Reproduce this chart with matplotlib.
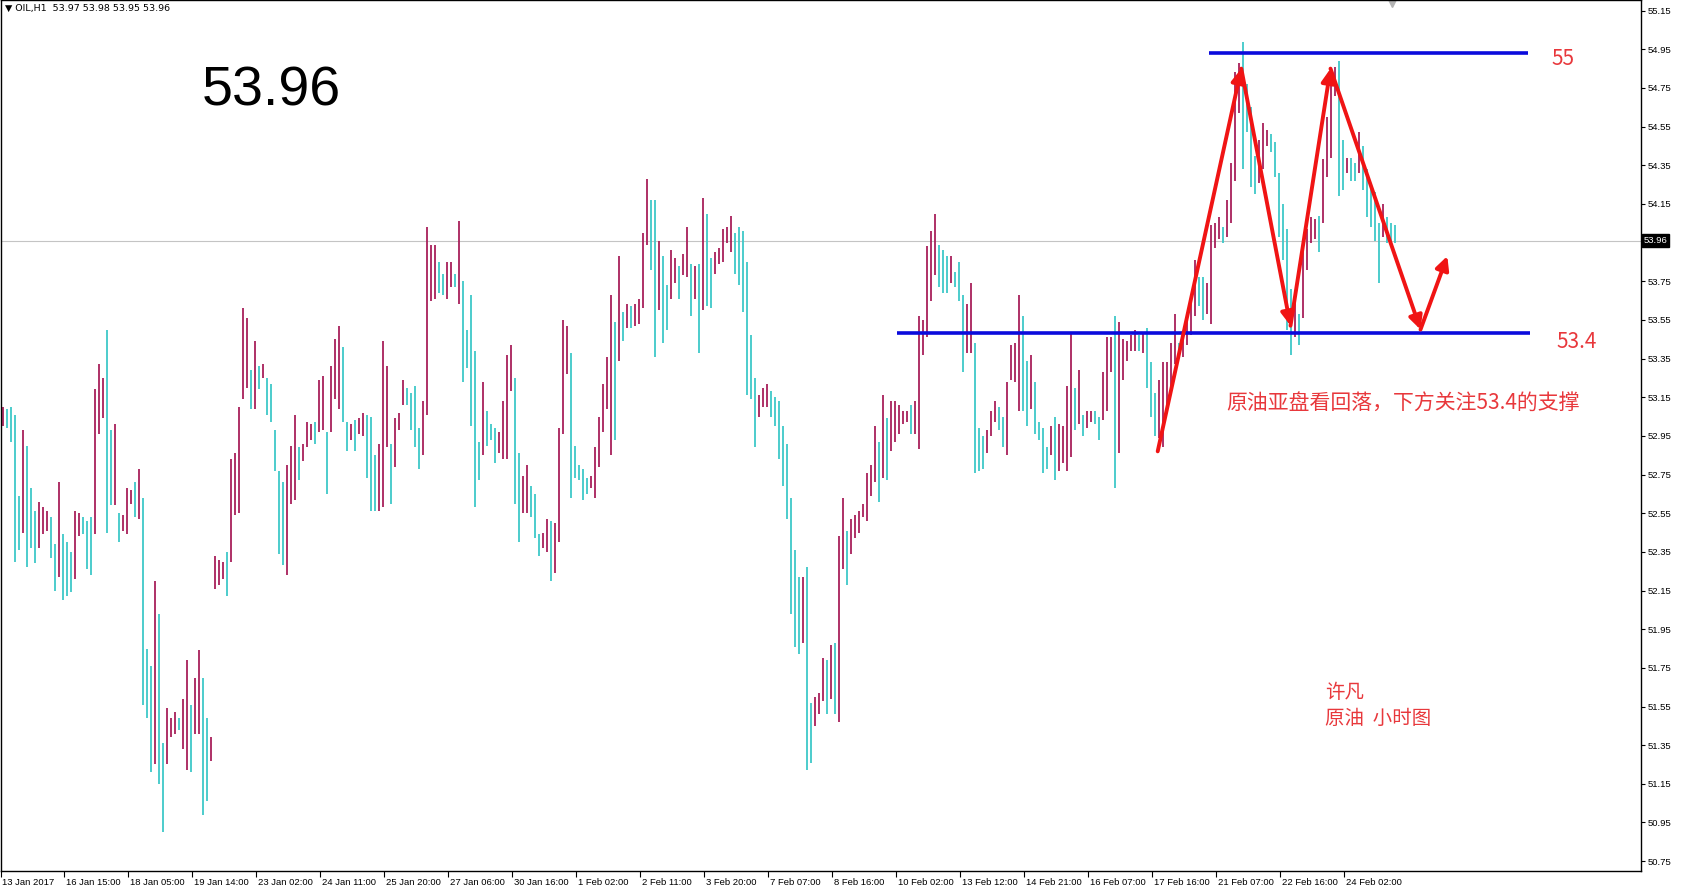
# import libraries
import numpy as np
import matplotlib
matplotlib.use("Agg")
import matplotlib.pyplot as plt
from matplotlib import transforms

# default font for the terminal texts
plt.rcParams['font.family'] = ['Liberation Sans', 'DejaVu Sans']

# highs and lows of the OIL H1 bars (each bar here = 2 hourly bars)
highs = [
    53.10, 53.09, 53.10, 53.06, 52.64, 52.98, 52.90, 52.68, 52.56, 52.61,
    52.58, 52.56, 52.53, 52.39, 52.71, 52.44, 52.40, 52.35, 52.56, 52.55,
    52.53, 52.51, 52.53, 53.19, 53.32, 53.25, 53.50, 52.98, 53.01, 52.55,
    52.54, 52.68, 52.67, 52.71, 52.78, 52.63, 51.85, 51.76, 52.20, 52.03,
    51.36, 51.54, 51.49, 51.52, 51.49, 51.59, 51.79, 51.56, 51.70, 51.84,
    51.70, 51.49, 51.39, 52.33, 52.31, 52.30, 52.35, 52.83, 52.86, 53.10,
    53.61, 53.56, 53.29, 53.44, 53.31, 53.32, 53.25, 53.22, 52.98, 52.77,
    52.71, 52.80, 52.90, 53.06, 52.89, 52.91, 53.02, 53.01, 53.02, 53.24,
    53.26, 52.97, 53.31, 53.45, 53.52, 53.41, 53.02, 53.01,
    53.03, 53.04, 53.07, 53.06, 53.05, 52.85, 52.91, 53.44, 53.31, 52.91,
    53.04, 53.07, 53.24, 53.20, 53.17, 53.21, 52.99, 53.13, 54.03, 53.94,
    53.94, 53.85, 53.79, 53.85, 53.85, 53.79, 54.06, 53.75, 53.50, 53.68,
    53.39, 52.92, 53.23, 53.08, 53.01, 52.99, 52.97, 53.13, 53.37, 53.42,
    53.25, 52.86, 52.74, 52.80, 52.69, 52.65, 52.44, 52.45, 52.52, 52.51,
    52.50, 52.99, 53.55, 53.52, 53.38, 52.90, 52.80, 52.78, 52.73, 52.74,
    52.89, 53.05, 53.22, 53.36, 53.68, 53.54, 53.88, 53.59, 53.63, 53.62,
    53.63, 53.66, 54.00, 54.28, 54.17, 54.17, 53.96, 53.88, 53.73, 53.91,
    53.87, 53.83, 53.89, 54.03, 53.84, 53.83, 53.84, 54.18,
    54.10, 53.87, 53.90, 53.92, 54.02, 54.03, 54.09, 54.00, 54.03, 54.01,
    53.85, 53.47, 53.25, 53.16, 53.20, 53.22, 53.18, 53.15, 53.13, 53.00,
    52.91, 52.63, 52.36, 52.22, 52.22, 52.27, 51.57, 51.60, 51.62, 51.80,
    51.79, 51.87, 51.88, 52.43, 52.63, 52.46, 52.52, 52.54, 52.56, 52.60,
    52.76, 52.80, 53.00, 52.92, 53.16, 53.04, 53.13, 53.13, 53.11, 53.08,
    53.08, 53.11, 53.13, 53.57, 53.55, 53.93, 54.01, 54.10, 53.94, 53.91,
    53.88, 53.88, 53.80, 53.85, 53.68, 53.63, 53.74, 53.43, 52.99, 52.95,
    52.98, 53.08, 53.13, 53.10, 53.05, 53.23, 53.42, 53.43, 53.68, 53.57,
    53.34, 53.37, 53.23, 53.02, 52.99, 52.89, 53.00, 53.05,
    53.01, 53.00, 53.21, 53.48, 53.20, 53.29, 53.06, 53.08, 53.08, 53.08,
    53.05, 53.28, 53.46, 53.46, 53.57, 53.54, 53.45, 53.44, 53.47, 53.50,
    53.47, 53.49, 53.51, 53.33, 53.17, 53.24, 53.33, 53.33, 53.43, 53.58,
    53.43, 53.46, 53.57, 53.67, 53.86, 53.77, 53.77, 53.74, 54.04, 54.05,
    54.08, 54.03, 54.17, 54.36, 54.83, 54.88, 54.99, 54.77, 54.65, 54.40,
    54.48, 54.57, 54.53, 54.51, 54.47, 54.31, 54.15, 54.02, 53.71, 53.64,
    53.58, 53.96, 54.02, 54.08, 54.07, 54.09, 54.38, 54.60, 54.77, 54.86,
    54.89, 54.48, 54.39, 54.39, 54.36, 54.52, 54.45, 54.33, 54.24, 54.21,
    54.05, 54.15, 54.08, 54.05, 54.04,
]
lows = [
    53.00, 52.99, 52.92, 52.30, 52.36, 52.45, 52.27, 52.37, 52.29, 52.37,
    52.44, 52.46, 52.32, 52.15, 52.22, 52.10, 52.12, 52.14, 52.21, 52.43,
    52.44, 52.26, 52.23, 52.44, 52.96, 53.04, 52.45, 52.59, 52.59, 52.40,
    52.46, 52.44, 52.60, 52.53, 52.52, 51.56, 51.49, 51.21, 51.25, 51.15,
    50.90, 51.25, 51.39, 51.41, 51.43, 51.33, 51.22, 51.21, 51.41, 51.41,
    50.99, 51.06, 51.27, 52.16, 52.18, 52.21, 52.12, 52.30, 52.54, 52.55,
    53.14, 53.20, 53.09, 53.09, 53.19, 53.25, 53.06, 53.02, 52.77, 52.34,
    52.28, 52.23, 52.60, 52.62, 52.72, 52.82, 52.89, 52.93, 52.91, 52.97,
    52.98, 52.65, 52.97, 53.14, 53.09, 53.02, 52.87, 52.93,
    52.87, 52.96, 52.95, 52.73, 52.56, 52.56, 52.56, 52.58, 52.89, 52.60,
    52.79, 52.98, 53.11, 53.11, 52.98, 52.89, 52.78, 52.85, 53.06, 53.65,
    53.66, 53.69, 53.68, 53.66, 53.72, 53.72, 53.63, 53.23, 53.30, 53.00,
    52.58, 52.72, 52.85, 52.90, 52.93, 52.81, 52.86, 52.83, 52.83, 53.18,
    52.60, 52.40, 52.55, 52.55, 52.53, 52.42, 52.33, 52.37, 52.35, 52.20,
    52.24, 52.40, 52.96, 53.27, 52.63, 52.73, 52.72, 52.62, 52.65, 52.68,
    52.63, 52.79, 52.97, 53.09, 52.85, 52.93, 53.34, 53.44, 53.51, 53.51,
    53.52, 53.53, 53.61, 53.94, 53.81, 53.36, 53.60, 53.43, 53.50, 53.66,
    53.74, 53.66, 53.78, 53.77, 53.57, 53.66, 53.38, 53.60,
    53.62, 53.61, 53.79, 53.84, 53.85, 53.95, 53.90, 53.79, 53.73, 53.59,
    53.16, 53.14, 52.89, 53.05, 53.10, 53.10, 53.05, 53.00, 52.83, 52.69,
    52.52, 52.03, 51.86, 51.82, 51.88, 51.22, 51.26, 51.45, 51.51, 51.58,
    51.51, 51.59, 51.51, 51.47, 52.26, 52.18, 52.34, 52.42, 52.45, 52.53,
    52.51, 52.64, 52.71, 52.61, 52.73, 52.72, 52.87, 52.92, 52.96, 53.01,
    53.02, 52.96, 52.96, 52.88, 53.37, 53.46, 53.65, 53.78, 53.72, 53.69,
    53.69, 53.74, 53.72, 53.65, 53.28, 53.38, 53.38, 52.76, 52.77, 52.78,
    52.86, 52.95, 53.02, 52.98, 52.89, 52.85, 53.24, 53.23, 53.08, 53.08,
    53.00, 53.09, 52.96, 52.93, 52.76, 52.78, 52.85, 52.72,
    52.77, 52.81, 52.77, 52.84, 52.98, 53.01, 52.95, 52.99, 53.02, 53.01,
    52.93, 53.03, 53.08, 53.28, 52.68, 52.86, 53.24, 53.34, 53.39, 53.39,
    53.39, 53.38, 53.20, 53.05, 52.95, 52.94, 52.89, 53.08, 53.21, 53.32,
    53.37, 53.36, 53.42, 53.47, 53.57, 53.62, 53.55, 53.58, 53.53, 53.92,
    53.97, 53.95, 53.98, 54.05, 54.27, 54.62, 54.33, 54.52, 54.24, 54.20,
    54.26, 54.33, 54.45, 54.42, 54.29, 53.98, 53.86, 53.50, 53.37, 53.46,
    53.42, 53.56, 53.81, 53.95, 53.97, 53.90, 54.05, 54.29, 54.39, 54.71,
    54.19, 54.22, 54.31, 54.27, 54.27, 54.31, 54.22, 54.08, 54.03, 53.96,
    53.74, 53.98, 53.95, 53.95, 53.95,
]

# bottom axis date labels (one every 16 bars) and right axis price ticks
date_labels = ["13 Jan 2017", "16 Jan 15:00", "18 Jan 05:00", "19 Jan 14:00", "23 Jan 02:00",
               "24 Jan 11:00", "25 Jan 20:00", "27 Jan 06:00", "30 Jan 16:00", "1 Feb 02:00",
               "2 Feb 11:00", "3 Feb 20:00", "7 Feb 07:00", "8 Feb 16:00", "10 Feb 02:00",
               "13 Feb 12:00", "14 Feb 21:00", "16 Feb 07:00", "17 Feb 16:00", "21 Feb 07:00",
               "22 Feb 16:00", "24 Feb 02:00"]
price_ticks = [55.15, 54.95, 54.75, 54.55, 54.35, 54.15, 53.75, 53.55, 53.35, 53.15,
               52.95, 52.75, 52.55, 52.35, 52.15, 51.95, 51.75, 51.55, 51.35, 51.15,
               50.95, 50.75]

# last quote and the analyst's drawings
last_ohlc = [53.97, 53.98, 53.95, 53.96]
last_price = 53.96
resistance = 54.93
support = 53.48
# red zigzag forecast: (bar, price) of each turning point
zig_bar = [288.8, 309.7, 322.0, 332.0, 354.5, 361.2]
zig_price = [52.87, 54.85, 53.52, 54.85, 53.50, 53.88]

W, H = 1682, 890
fig = plt.figure(figsize=(W / 100, H / 100), dpi=100)
ax = fig.add_axes([0.5 / W, 19 / H, 1640 / W, 871 / H])
ax.set_xlim(-0.5, 409.5)
ax.set_ylim(50.699, 55.205)

# bars: pink when the bar moved up, cyan when it moved down
x = np.arange(len(highs))
hi = np.array(highs)
lo = np.array(lows)
mid = (hi + lo) / 2
up = np.r_[True, mid[1:] >= mid[:-1]]
colors = np.where(up, '#a8205a', '#3ec8c8')
ax.vlines(x, lo, hi, colors=colors, linewidth=1.3, zorder=2)

# current price line
ax.axhline(last_price, color='#c4c4c4', lw=0.8, zorder=1)

# support and resistance lines
ax.hlines(resistance, 301.5, 381.25, color='#0a0adc', lw=2.6, zorder=3)
ax.hlines(support, 223.5, 381.75, color='#0a0adc', lw=2.6, zorder=3)

# red zigzag with an arrow head on every leg
for i in range(len(zig_bar) - 1):
    ax.annotate('', xy=(zig_bar[i + 1], zig_price[i + 1]), xytext=(zig_bar[i], zig_price[i]),
                arrowprops=dict(arrowstyle='-|>', color='#f01414', lw=2.8,
                                mutation_scale=20, shrinkA=0, shrinkB=0),
                zorder=4)

# axes look like the terminal window
for s in ax.spines.values():
    s.set_color('black')
    s.set_linewidth(1.0)
ax.yaxis.tick_right()
ax.set_yticks(price_ticks)
ax.set_yticklabels(['%.2f' % p for p in price_ticks])
ax.tick_params(axis='y', direction='out', length=3, width=0.8, labelsize=6.8, pad=2)

xt = [-0.5] + [15.25 + 16 * k for k in range(len(date_labels) - 1)]
ax.set_xticks(xt)
ax.set_xticklabels(date_labels)
ax.tick_params(axis='x', direction='out', length=4, width=0.8, labelsize=6.8, pad=1)
offset = transforms.ScaledTranslation(2 / 100, 0, fig.dpi_scale_trans)
for lab in ax.get_xticklabels():
    lab.set_horizontalalignment('left')
    lab.set_transform(lab.get_transform() + offset)

# black price tag on the right axis
tag = transforms.blended_transform_factory(ax.transAxes, ax.transData)
ax.text(1.0 + 3 / 1640, last_price, '%.2f' % last_price, transform=tag, color='white',
        fontsize=6.8, va='center', ha='left',
        bbox=dict(boxstyle='square,pad=0.2', fc='black', ec='black'), clip_on=False)

# chart shift marker at the top
top = transforms.blended_transform_factory(ax.transData, ax.transAxes)
ax.plot([347.3], [0.997], marker='v', color='#b4b4b4', markersize=6, transform=top, clip_on=False)


def fx(px):
    return px / W


def fy(py):
    return 1 - py / H


# header of the chart window
fig.text(fx(5), fy(8), '▼ OIL,H1  ' + ' '.join('%.2f' % v for v in last_ohlc),
         fontsize=6.8, va='center', ha='left', family=['DejaVu Sans'])

# big price label
fig.text(fx(202), fy(92), '%.2f' % last_price, fontsize=40, va='center', ha='left', color='black')

# red comments
red = '#e8383c'
cjk = ['Noto Sans CJK SC', 'DejaVu Sans']
fig.text(fx(1551), fy(59), '55', fontsize=15, color=red, va='center', ha='left', family=cjk)
fig.text(fx(1556), fy(342), '53.4', fontsize=15, color=red, va='center', ha='left', family=cjk)
fig.text(fx(1226), fy(403), '原油亚盘看回落，下方关注53.4的支撑', fontsize=15, color=red,
         va='center', ha='left', family=cjk)
fig.text(fx(1325), fy(692), '许凡', fontsize=14, color=red, va='center', ha='left', family=cjk)
fig.text(fx(1325), fy(718), '原油  小时图', fontsize=14, color=red, va='center', ha='left', family=cjk)

fig.savefig('out.png', dpi=100)
